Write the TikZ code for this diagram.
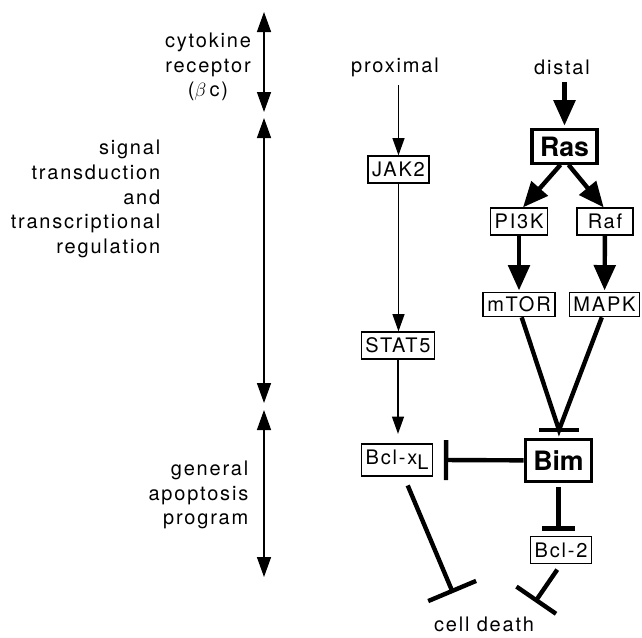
\documentclass[tikz,border=0pt]{standalone}
\usepackage{fontspec}
\setmainfont{TeX Gyre Heros}[LetterSpace=9]
\newfontfamily\bigfont{TeX Gyre Heros}
\usetikzlibrary{arrows.meta}
\usetikzlibrary{calc}
\usetikzlibrary{positioning}

\begin{document}
\begin{tikzpicture}[
  x=0.75pt, y=-0.75pt,
  every node/.style={font=\fontsize{15pt}{18.5pt}\selectfont},
  box/.style = {draw,line width=1.2pt,inner xsep=3pt,inner ysep=0pt,minimum height=20pt,minimum width=42pt},
  bigbox/.style = {draw,line width=2.4pt,inner xsep=6pt,inner ysep=0pt,minimum height=25pt,font=\bigfont\bfseries\fontsize{20pt}{24pt}\selectfont},
  thin arrow/.style = {-{Triangle[width=9pt,length=13pt]},line width=1pt},
  phase/.style = {{Triangle[width=10.5pt,length=15pt]}-{Triangle[width=10.5pt,length=15pt]},line width=1.1pt},
  thick arrow/.style = {-{Triangle[width=16pt,length=19pt]},line width=3.3pt},
  inhib/.style = {-{Bar[width=#1]},line width=3.3pt},
  inhib/.default = 30pt
  ]
  \useasboundingbox (0,0) rectangle (642,637);

	% stages on the left
	\coordinate (@1) at (264,12);
	\coordinate (@2) at (264,112);
	\coordinate (@3) at (264,118);
	\coordinate (@4) at (264,403);
	\coordinate (@5) at (264,410);
	\coordinate (@6) at (264,577);
	\draw[phase] (@1) -- (@2);
	\draw[phase] (@3) -- (@4);
	\draw[phase] (@5) -- (@6);

	\node[align=center] (cyto) at (208,67) {cytokine\\receptor\\($\beta$\,c)};
	\node[align=right,anchor=east] (signal) at (165,199) {signal\\transduction\\and\\transcriptional\\regulation};
	\node[align=right,anchor=east] (general) at (253,495) {general\\apoptosis\\program};

	% proximal branch
	\node (prox) at (395,67) {proximal};
	\node[box] (jak) at (398.5,169.5) {JAK2};
	\node[box] (stat) at (398,345.5) {STAT5};
	\node[box,minimum height=24pt] (bclxl) at (397,460) {Bcl-x\raisebox{-0.5ex}{L}};

	% distal branch
	\node (distal) at (562,67) {distal};
	\node[bigbox] (ras) at (564.5,146.5) {Ras};
	\node[box] (pi3k) at (519,221.5) {PI3K};
	\node[box] (raf) at (605,221.5) {Raf};
	\node[box,minimum height=18pt] (mtor) at (519,304.5) {mTOR};
	\node[box,minimum height=18pt] (mapk) at (604.5,304.5) {MAPK};
	\node[bigbox,minimum height=31pt] (bim) at (558.5,460.5) {Bim};
	\node[box] (bcl2) at (561,550) {Bcl-2};

	\node (death) at (484,624) {cell death};

  	\draw[thin arrow,shorten <=3pt] (prox.south -| jak) -- (jak);
	\draw[thin arrow] (jak) -- (jak |- stat.north);
	\draw[thin arrow,shorten >=7pt] (stat) -- (stat |- bclxl.north);

	\draw[thick arrow,shorten <=2pt,shorten >=2pt] (distal.south -| ras) -- (ras);
	\draw[thick arrow] ([xshift=-3pt]ras.south) -- ([xshift=3pt]pi3k.north);
	\draw[thick arrow] ([xshift=3pt]ras.south) -- ([xshift=-1pt]raf.north);
	\draw[thick arrow,shorten >=1pt] (pi3k) -- (mtor);
	\draw[thick arrow,shorten >=1pt] (raf) -- (mapk);

	\coordinate (bimbar) at (559,430);
	\draw[line width=3.3pt] ([xshift=2pt]mtor.south) -- (bimbar) -- ([xshift=-2pt]mapk.south);
	\draw[line width=3.3pt] ([shift={(-20,0)}]bimbar) -- ([shift={(20,0)}]bimbar);

	\draw[inhib] (bim) -- ([xshift=8pt]bclxl.east);
	\draw[inhib=25pt,shorten <=3pt] (bim.south) -- ([yshift=4pt]bim.south |- bcl2.north);

	\coordinate (dl) at (453,593);
	\coordinate (dr) at (535,602);
	\draw[inhib=39pt,shorten <=7pt] (bclxl) -- (dl);
	\draw[inhib=36pt,shorten <=5pt] (bcl2.south) -- (dr);

\end{tikzpicture}
\end{document}
